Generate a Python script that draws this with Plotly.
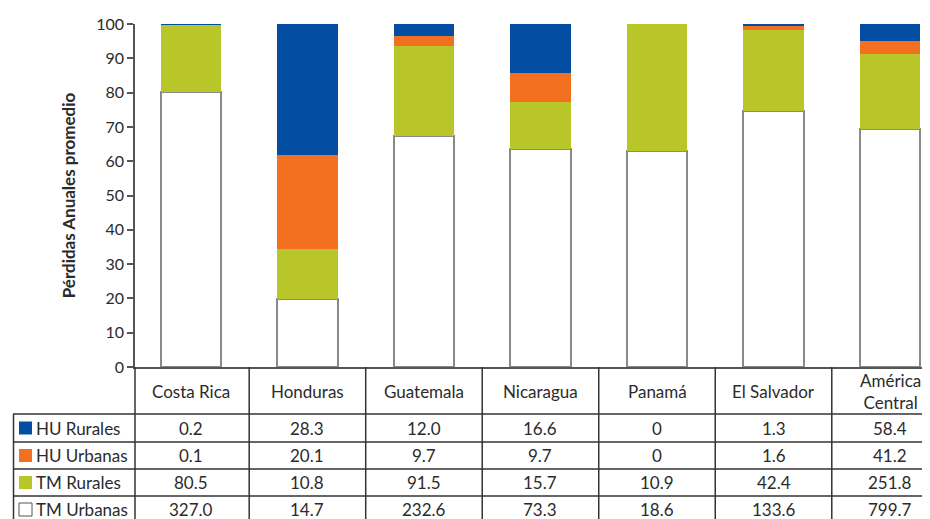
import plotly.graph_objects as go

countries = ["Costa Rica", "Honduras", "Guatemala", "Nicaragua", "Panamá", "El Salvador", "América Central"]
country_labels = ["Costa Rica", "Honduras", "Guatemala", "Nicaragua", "Panamá", "El Salvador", "América<br>Central"]
hu_rurales = [0.2, 28.3, 12.0, 16.6, 0, 1.3, 58.4]
hu_urbanas = [0.1, 20.1, 9.7, 9.7, 0, 1.6, 41.2]
tm_rurales = [80.5, 10.8, 91.5, 15.7, 10.9, 42.4, 251.8]
tm_urbanas = [327.0, 14.7, 232.6, 73.3, 18.6, 133.6, 799.7]
y_ticks = [0, 10, 20, 30, 40, 50, 60, 70, 80, 90, 100]

C_BLUE = "#034EA2"
C_ORANGE = "#F37021"
C_GREEN = "#B9C62A"
TXT = "#2b2b2b"
LINE = "#333333"
FONT = "Lato, 'Open Sans', sans-serif"

W, H = 930, 519
OFF = 8  # page body margin


def sx(px):
    return (px - OFF) / W


def sy(py):
    return 1 - (py - OFF) / H


fig = go.Figure()
series = [
    ("TM Urbanas", tm_urbanas, "white", "#8a8a8a", 2),
    ("TM Rurales", tm_rurales, C_GREEN, C_GREEN, 0),
    ("HU Urbanas", hu_urbanas, C_ORANGE, C_ORANGE, 0),
    ("HU Rurales", hu_rurales, C_BLUE, C_BLUE, 0),
]
x_idx = list(range(len(countries)))
for name, vals, col, lc, lw in series:
    fig.add_trace(go.Bar(
        x=x_idx, y=vals, name=name,
        marker=dict(color=col, line=dict(color=lc, width=lw)),
        width=0.52, showlegend=False,
    ))


def fmt(v):
    return "0" if v == 0 else f"{v:.1f}"


# ---- data table drawn beneath the chart ----
row_lines = [414, 442, 469, 496]
row_centers = [428, 455.5, 482.5, 509.5]
table_rows = [
    ("HU Rurales", hu_rurales, C_BLUE, C_BLUE),
    ("HU Urbanas", hu_urbanas, C_ORANGE, C_ORANGE),
    ("TM Rurales", tm_rurales, C_GREEN, C_GREEN),
    ("TM Urbanas", tm_urbanas, "white", "#555555"),
]

shapes = []
for py in row_lines:
    shapes.append(dict(type="line", xref="paper", yref="paper", x0=sx(13), x1=1,
                       y0=sy(py), y1=sy(py), line=dict(color=LINE, width=1.5)))
shapes.append(dict(type="line", xref="paper", yref="paper", x0=sx(13.5), x1=sx(13.5),
                   y0=sy(414), y1=0, line=dict(color=LINE, width=1.5)))
shapes.append(dict(type="line", xref="x domain", yref="paper", x0=0, x1=0,
                   y0=sy(367), y1=0, line=dict(color=LINE, width=1.5)))
for i in range(len(countries) - 1):
    shapes.append(dict(type="line", xref="x", yref="paper", x0=i + 0.5, x1=i + 0.5,
                       y0=sy(367), y1=0, line=dict(color=LINE, width=1.5)))

annotations = []
for i, lab in enumerate(country_labels):
    annotations.append(dict(xref="x", yref="paper", x=i, y=sy(391), text=lab,
                            showarrow=False, font=dict(size=17, color=TXT),
                            xanchor="center", yanchor="middle"))
for r, (name, vals, fillc, edgec) in enumerate(table_rows):
    cy = row_centers[r]
    shapes.append(dict(type="rect", xref="paper", yref="paper",
                       x0=sx(19), x1=sx(32), y0=sy(cy - 6.5), y1=sy(cy + 6.5),
                       fillcolor=fillc, line=dict(color=edgec, width=1 if fillc == "white" else 0)))
    annotations.append(dict(xref="paper", yref="paper", x=sx(34), y=sy(cy),
                            text=name, showarrow=False, font=dict(size=17, color=TXT),
                            xanchor="left", yanchor="middle"))
    for i, v in enumerate(vals):
        annotations.append(dict(xref="x", yref="paper", x=i, y=sy(cy), text=fmt(v),
                                showarrow=False, font=dict(size=17, color=TXT),
                                xanchor="center", yanchor="middle"))

fig.update_layout(
    width=W, height=H,
    margin=dict(l=0, r=0, t=0, b=0),
    paper_bgcolor="white", plot_bgcolor="white",
    barmode="stack", barnorm="percent",
    font=dict(family=FONT, color=TXT, size=16),
    shapes=shapes, annotations=annotations,
    xaxis=dict(domain=[sx(135), sx(930)], range=[-0.48, 6.343], showticklabels=False,
               showgrid=False, zeroline=False, showline=True, automargin=False,
               linecolor="#555555", linewidth=1.5, ticks=""),
    yaxis=dict(domain=[sy(367), sy(24)], range=[0, 100], tickvals=y_ticks,
               showgrid=False, zeroline=False, showline=True, automargin=False,
               linecolor="#555555", linewidth=1.5, ticks="outside",
               ticklen=6, tickcolor="#555555", tickwidth=1.5,
               tickfont=dict(size=16, color=TXT),
               title=dict(text="<b>Pérdidas Anuales promedio</b>",
                          font=dict(size=17, color=TXT), standoff=16)),
)

fig.write_html("out.html")
